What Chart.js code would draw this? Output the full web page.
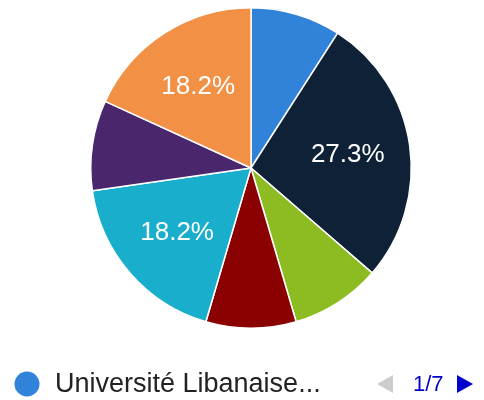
<!DOCTYPE html>
<html>
<head>
<meta charset="utf-8">
<script src="https://cdn.jsdelivr.net/npm/chart.js@4"></script>
<style>
  html, body { margin: 0; padding: 0; background: #fff; }
  #wrap { width: 484px; height: 400px; }
</style>
</head>
<body>
<div id="wrap"><canvas id="chart" width="484" height="400"></canvas></div>
<script>
// Pie of 7 universities, Google-charts look: inner % labels, one-line paged legend.
const labels = [
  'Université Libanaise',
  'Université Saint-Joseph',
  'Université de Balamand',
  'Université Américaine de Beyrouth',
  'Université Libanaise Américaine',
  'Université Saint-Esprit de Kaslik',
  'Autre',
];
const values = [1, 3, 1, 1, 2, 1, 2];
const colors = ['#3182d9', '#0e2137', '#8cbb22', '#8b0000', '#1aaecd', '#4a276d', '#f29046'];
const pageText = '1/7';

const total = values.reduce((a, b) => a + b, 0);

const sliceLabels = {
  id: 'sliceLabels',
  afterDatasetsDraw(chart) {
    const ctx = chart.ctx;
    const meta = chart.getDatasetMeta(0);
    ctx.save();
    ctx.font = '26px Arial, "Liberation Sans", sans-serif';
    ctx.fillStyle = '#fff';
    ctx.textAlign = 'center';
    ctx.textBaseline = 'middle';
    meta.data.forEach((arc, i) => {
      const pct = values[i] / total * 100;
      if (pct < 10) return;
      const mid = (arc.startAngle + arc.endAngle) / 2;
      const r = arc.outerRadius * 0.61;
      ctx.fillText(pct.toFixed(1) + '%', arc.x + Math.cos(mid) * r, arc.y + Math.sin(mid) * r + 1);
    });
    ctx.restore();
  }
};

const pagedLegend = {
  id: 'pagedLegend',
  afterDraw(chart) {
    const ctx = chart.ctx;
    const y = 384;
    ctx.save();
    // marker
    ctx.fillStyle = colors[0];
    ctx.beginPath();
    ctx.arc(27, y, 12.5, 0, Math.PI * 2);
    ctx.fill();
    // label (truncated like the original)
    ctx.font = '27px Arial, "Liberation Sans", sans-serif';
    ctx.fillStyle = '#222';
    ctx.textAlign = 'left';
    ctx.textBaseline = 'middle';
    ctx.fillText(labels[0] + '...', 55, y + 1);
    // pager
    ctx.font = '22px Arial, "Liberation Sans", sans-serif';
    ctx.fillStyle = '#ccc';
    ctx.beginPath();
    ctx.moveTo(377, y);
    ctx.lineTo(393, y - 9);
    ctx.lineTo(393, y + 9);
    ctx.closePath();
    ctx.fill();
    ctx.fillStyle = '#0000cc';
    ctx.fillText(pageText, 413, y + 1);
    ctx.beginPath();
    ctx.moveTo(473, y);
    ctx.lineTo(457, y - 9);
    ctx.lineTo(457, y + 9);
    ctx.closePath();
    ctx.fill();
    ctx.restore();
  }
};

new Chart(document.getElementById('chart'), {
  type: 'pie',
  data: {
    labels,
    datasets: [{
      data: values,
      backgroundColor: colors,
      borderColor: '#fff',
      borderWidth: 1.5,
    }]
  },
  options: {
    responsive: false,
    animation: false,
    layout: { padding: { left: 90, right: 72, top: 7, bottom: 71 } },
    plugins: { legend: { display: false }, tooltip: { enabled: false } },
  },
  plugins: [sliceLabels, pagedLegend],
});
</script>
</body>
</html>
